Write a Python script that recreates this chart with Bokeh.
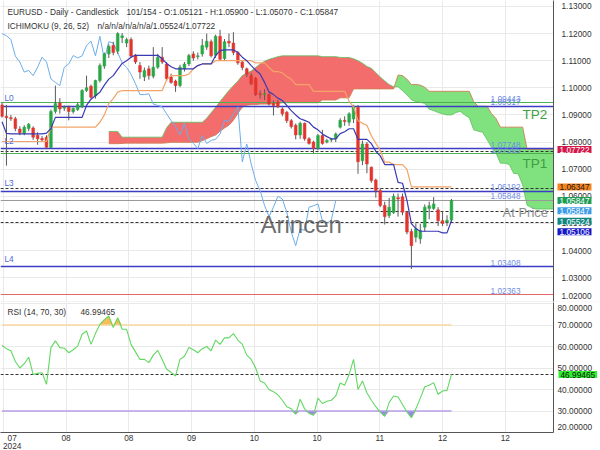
import numpy as np
from bokeh.plotting import figure
from bokeh.layouts import column
from bokeh.models import Range1d, FixedTicker, Label, ColumnDataSource
from bokeh.embed import file_html
from bokeh.resources import INLINE

FONT = "Liberation Sans"

# ---------------- data ----------------
idx = list(range(102))
open_ = [1.0937, 1.0895, 1.0890, 1.0886, 1.0848, 1.0832, 1.0850, 1.0852, 1.0825, 1.0813,
         1.0818, 1.0780, 1.0913, 1.0944, 1.0925, 1.0928, 1.0912, 1.0920, 1.0930, 1.0990,
         1.1006, 1.0970, 1.1027, 1.1080, 1.1125, 1.1156, 1.1135, 1.1185, 1.1165, 1.1178,
         1.1121, 1.1082, 1.1040, 1.1070, 1.1043, 1.1076, 1.1113, 1.1088, 1.1040, 1.1025,
         1.1009, 1.1070, 1.1088, 1.1125, 1.1115, 1.1125, 1.1150, 1.1170, 1.1120, 1.1190,
         1.1108, 1.1172, 1.1165, 1.1130, 1.1095, 1.1070, 1.1045, 1.1035, 1.0978, 1.0975,
         1.0975, 1.0942, 1.0947, 1.0922, 1.0910, 1.0879, 1.0862, 1.0826, 1.0869, 1.0812,
         1.0800, 1.0776, 1.0824, 1.0800, 1.0808, 1.0812, 1.0855, 1.0880, 1.0873, 1.0885,
         1.0928, 1.0731, 1.0793, 1.0707, 1.0660, 1.0621, 1.0566, 1.0529, 1.0540, 1.0595,
         1.0598, 1.0541, 1.0470, 1.0449, 1.0443, 1.0486, 1.0555, 1.0555, 1.0550, 1.0510,
         1.0505, 1.05121]
high = [1.0945, 1.0937, 1.0900, 1.0893, 1.0858, 1.0862, 1.0870, 1.0858, 1.0836, 1.0822,
        1.0825, 1.0920, 1.1008, 1.0962, 1.0935, 1.0935, 1.0928, 1.0945, 1.0995, 1.1045,
        1.1012, 1.1030, 1.1090, 1.1130, 1.1160, 1.1170, 1.1205, 1.1202, 1.1185, 1.1186,
        1.1125, 1.1095, 1.1075, 1.1082, 1.1150, 1.1125, 1.1150, 1.1095, 1.1052, 1.1030,
        1.1085, 1.1095, 1.1125, 1.1135, 1.1130, 1.1180, 1.1200, 1.1178, 1.1196, 1.1214,
        1.1180, 1.1200, 1.1205, 1.1135, 1.1100, 1.1075, 1.1055, 1.1040, 1.0990, 1.0995,
        1.0980, 1.0953, 1.0955, 1.0928, 1.0915, 1.0885, 1.0868, 1.0875, 1.0872, 1.0818,
        1.0805, 1.0830, 1.0845, 1.0812, 1.0815, 1.0835, 1.0888, 1.0895, 1.0910, 1.0937,
        1.0937, 1.0805, 1.0800, 1.0710, 1.0665, 1.0630, 1.0580, 1.0594, 1.0610, 1.0610,
        1.0610, 1.0545, 1.0480, 1.0500, 1.0498, 1.0570, 1.0580, 1.0597, 1.0560, 1.0545,
        1.0530, 1.05900]
low = [1.0890, 1.0713, 1.0878, 1.0840, 1.0825, 1.0825, 1.0840, 1.0808, 1.0790, 1.0800,
       1.0777, 1.0777, 1.0905, 1.0905, 1.0915, 1.0880, 1.0905, 1.0915, 1.0925, 1.0985,
       1.0960, 1.0960, 1.1020, 1.1070, 1.1110, 1.1120, 1.1125, 1.1165, 1.1150, 1.1110,
       1.1088, 1.1033, 1.1025, 1.1030, 1.1035, 1.1070, 1.1088, 1.1025, 1.1015, 1.0985,
       1.1002, 1.1060, 1.1080, 1.1100, 1.1105, 1.1115, 1.1140, 1.1112, 1.1110, 1.1100,
       1.1100, 1.1150, 1.1120, 1.1085, 1.1065, 1.1040, 1.1010, 1.0970, 1.0960, 1.0955,
       1.0935, 1.0898, 1.0925, 1.0895, 1.0870, 1.0850, 1.0810, 1.0812, 1.0805, 1.0790,
       1.0760, 1.0770, 1.0790, 1.0795, 1.0800, 1.0800, 1.0850, 1.0860, 1.0860, 1.0870,
       1.0683, 1.0715, 1.0685, 1.0650, 1.0595, 1.0560, 1.0496, 1.0520, 1.0535, 1.0525,
       1.0530, 1.0460, 1.0332, 1.0430, 1.0425, 1.0470, 1.0515, 1.0550, 1.0490, 1.0490,
       1.0490, 1.05070]
close = [1.0895, 1.0890, 1.0886, 1.0850, 1.0834, 1.0855, 1.0866, 1.0818, 1.0812, 1.0808,
         1.0781, 1.0913, 1.0942, 1.0922, 1.0928, 1.0913, 1.0924, 1.0938, 1.0990, 1.1000,
         1.0965, 1.1027, 1.1082, 1.1125, 1.1153, 1.1130, 1.1200, 1.1192, 1.1178, 1.1117,
         1.1095, 1.1058, 1.1064, 1.1045, 1.1076, 1.1113, 1.1095, 1.1033, 1.1020, 1.1008,
         1.1076, 1.1088, 1.1119, 1.1110, 1.1118, 1.1156, 1.1172, 1.1118, 1.1190, 1.1105,
         1.1170, 1.1165, 1.1130, 1.1092, 1.1075, 1.1050, 1.1015, 1.0975, 1.0975, 1.0978,
         1.0940, 1.0935, 1.0930, 1.0904, 1.0879, 1.0857, 1.0826, 1.0869, 1.0812, 1.0795,
         1.0776, 1.0824, 1.0795, 1.0806, 1.0810, 1.0830, 1.0880, 1.0876, 1.0904, 1.0930,
         1.0727, 1.0793, 1.0719, 1.0658, 1.0621, 1.0566, 1.0525, 1.0560, 1.0600, 1.0590,
         1.0541, 1.0468, 1.0418, 1.0480, 1.0474, 1.0560, 1.0565, 1.0572, 1.0510, 1.0500,
         1.0512, 1.05847]

tenkan = [1.0875, 1.0832, 1.0830, 1.0830, 1.0830, 1.0830, 1.0830, 1.0830, 1.0830, 1.0830,
          1.0833, 1.0850, 1.0891, 1.0891, 1.0891, 1.0891, 1.0891, 1.0891, 1.0891, 1.0935,
          1.0958, 1.0971, 1.0984, 1.1010, 1.1032, 1.1045, 1.1068, 1.1090, 1.1100, 1.1113,
          1.1120, 1.1120, 1.1120, 1.1120, 1.1120, 1.1120, 1.1107, 1.1090, 1.1078, 1.1070,
          1.1070, 1.1070, 1.1070, 1.1070, 1.1082, 1.1088, 1.1088, 1.1088, 1.1119, 1.1137,
          1.1140, 1.1140, 1.1140, 1.1130, 1.1113, 1.1100, 1.1082, 1.1065, 1.1051, 1.1020,
          1.0985, 1.0975, 1.0962, 1.0953, 1.0935, 1.0916, 1.0900, 1.0886, 1.0880, 1.0873,
          1.0855, 1.0845, 1.0830, 1.0820, 1.0812, 1.0812, 1.0831, 1.0838, 1.0849, 1.0849,
          1.0810, 1.0810, 1.0810, 1.0794, 1.0766, 1.0749, 1.0717, 1.0717, 1.0717, 1.0651,
          1.0648, 1.0585, 1.0499, 1.0481, 1.0471, 1.0471, 1.0471, 1.0471, 1.0471, 1.0465,
          1.0465, 1.05106]
kijun = [1.0802, 1.0802, 1.0802, 1.0802, 1.0802, 1.0802, 1.0802, 1.0802, 1.0802, 1.0802,
         1.0802, 1.0855, 1.0855, 1.0855, 1.0855, 1.0855, 1.0855, 1.0855, 1.0855, 1.0855,
         1.0855, 1.0855, 1.0873, 1.0900, 1.0942, 1.0960, 1.0984, 1.0990, 1.0990, 1.0990,
         1.0990, 1.0990, 1.0990, 1.0990, 1.0990, 1.0990, 1.0990, 1.1030, 1.1045, 1.1045,
         1.1045, 1.1045, 1.1051, 1.1070, 1.1082, 1.1088, 1.1088, 1.1088, 1.1100, 1.1100,
         1.1100, 1.1100, 1.1100, 1.1100, 1.1100, 1.1100, 1.1100, 1.1092, 1.1092, 1.1092,
         1.1075, 1.1060, 1.1060, 1.1055, 1.1042, 1.1032, 1.1012, 1.1012, 1.1012, 1.1012,
         1.0987, 1.0987, 1.0987, 1.0987, 1.0987, 1.0987, 1.0987, 1.0987, 1.0950, 1.0930,
         1.0879, 1.0869, 1.0862, 1.0823, 1.0795, 1.0770, 1.0726, 1.0726, 1.0717, 1.0717,
         1.0717, 1.0699, 1.0635, 1.06347, 1.06347, 1.06347, 1.06347, 1.06347, 1.06347, 1.06347,
         1.06347, 1.06347]

cloud_idx = list(range(24, 126))
span_a = [1.0839, 1.0839, 1.0839, 1.0818, 1.0818, 1.0818, 1.0818, 1.0818, 1.0818, 1.0818,
          1.0818, 1.0818, 1.0818, 1.0853, 1.0873, 1.0873, 1.0873, 1.0873, 1.0873, 1.0873,
          1.0873, 1.0873, 1.0888, 1.0908, 1.0928, 1.0950, 1.0970, 1.0990, 1.1008, 1.1025,
          1.1045, 1.1055, 1.1062, 1.1075, 1.1088, 1.1098, 1.1105, 1.1110, 1.1115, 1.1118,
          1.1118, 1.1118, 1.1118, 1.1118, 1.1118, 1.1118, 1.1118, 1.1118, 1.1115, 1.1115,
          1.1115, 1.1115, 1.1112, 1.1112, 1.1112, 1.1107, 1.1100, 1.1091, 1.1079, 1.1072,
          1.1056, 1.1040, 1.1025, 1.1012, 1.1004, 1.1004, 1.0989, 1.0974, 1.0956, 1.0949,
          1.0946, 1.0943, 1.0921, 1.0916, 1.0909, 1.0904, 1.0900, 1.0900, 1.0909, 1.0913,
          1.0900, 1.0890, 1.0845, 1.0840, 1.0836, 1.0809, 1.0781, 1.0760, 1.0722, 1.0722,
          1.0717, 1.0684, 1.0683, 1.0642, 1.0567, 1.0558, 1.0553, 1.0553, 1.0553, 1.0553,
          1.0553, 1.05524]
span_b = [1.0794, 1.0794, 1.0794, 1.0795, 1.0796, 1.0796, 1.0796, 1.0796, 1.0796, 1.0796,
          1.0796, 1.0796, 1.0796, 1.0797, 1.0799, 1.0799, 1.0799, 1.0799, 1.0799, 1.0799,
          1.0799, 1.0805, 1.0812, 1.0820, 1.0826, 1.0840, 1.0852, 1.0862, 1.0880, 1.0905,
          1.0929, 1.0936, 1.0938, 1.0938, 1.0940, 1.0940, 1.0940, 1.0942, 1.0942, 1.0945,
          1.0945, 1.0945, 1.0945, 1.0945, 1.0945, 1.0945, 1.0945, 1.0945, 1.0955, 1.0955,
          1.0955, 1.0955, 1.0963, 1.0963, 1.0963, 1.0996, 1.0996, 1.0996, 1.0996, 1.0996,
          1.0996, 1.0996, 1.0996, 1.0996, 1.0996, 1.1047, 1.1045, 1.1032, 1.1012, 1.1012,
          1.1010, 1.1002, 1.0987, 1.0987, 1.0987, 1.0987, 1.0987, 1.0987, 1.0987, 1.0987,
          1.0987, 1.0987, 1.0949, 1.0932, 1.0932, 1.0932, 1.0905, 1.0887, 1.0855, 1.0855,
          1.0855, 1.0855, 1.0855, 1.0855, 1.0773, 1.0773, 1.0773, 1.0773, 1.0773, 1.0773,
          1.0773, 1.07722]

rsi = [60.5, 59, 58, 53, 50, 52, 55, 47, 47.5, 47.8,
       42.4, 59.5, 62.6, 59.5, 59.2, 57.1, 58.5, 60.2, 65.7, 67.2,
       61, 66, 70.3, 72.5, 74.2, 68.8, 73.4, 68, 68, 61,
       57.5, 54, 54, 52.5, 56, 58.2, 54, 49.4, 48, 46.3,
       54, 55.5, 59.5, 58.5, 57.1, 59, 60, 58, 63, 61,
       64, 64, 66, 63, 61, 56, 54, 50, 44, 43,
       40, 39, 37.5, 35, 32, 31, 28.5, 35.5, 31, 29,
       28, 36, 33.5, 34.5, 35, 37, 43, 42, 47, 54,
       40, 44, 38.5, 35, 32, 29.5, 27.5, 34, 37, 36.5,
       33, 29.5, 26.9, 31, 36, 41.3, 42, 43.2, 37.8, 39.3,
       39.6, 46.99465]
rsi_upper, rsi_lower = 70, 30

tick_pos = [0.3, 14.4, 28.5, 42.6, 56.7, 70.8, 84.9, 99.0, 113.1]
tick_labels = ["07", "08", "08", "09", "10", "10", "11", "12", "12"]
first_year = "2024"
price_ticks = [1.02, 1.03, 1.04, 1.05, 1.06, 1.07, 1.08, 1.09, 1.10, 1.11, 1.12, 1.13]
rsi_ticks = [20, 30, 40, 50, 60, 70, 80]

tp_levels = [1.09443, 1.07565]
tp_names = ["TP2", "TP1"]
l_levels = [1.09317, 1.07748, 1.06192, 1.03408]
l_names = ["L0", "L2", "L3", "L4"]
dashed_levels = [1.07660, 1.06300, 1.05450, 1.05040]
gray_level = 1.05848
red_level = 1.02363

box_values = [1.07722, 1.06347, 1.05847, 1.05847, 1.05524, 1.05106]
box_colors = ["#d41648", "#f5841f", "#1e9c54", "#3b9be6", "#13877f", "#1717c6"]
box_text_colors = ["white", "#1a1a1a", "white", "white", "white", "white"]

header1 = "EURUSD - Daily - Candlestick"
header1b = "101/154 - O:1.05121 - H:1.05900 - L:1.05070 - C:1.05847"
header2 = "ICHIMOKU (9, 26, 52)"
header2b = "n/a/n/a/n/a/n/a/1.05524/1.07722"
rsi_title = "RSI (14, 70, 30)"

# ---------------- layout constants ----------------
W = 600
PLOT_W = 553                     # width of the plotting area (axis line at its right edge)
H_MAIN, H_RSI = 301, 130         # plotting-area heights
H_XAX = 18                       # height under the RSI panel for the date labels
XS, XE = -0.337, 123.93
PXU = PLOT_W / (XE - XS)
XE_FULL = XS + W / PXU
Y0, Y1 = 1.0212, 1.1322
R1 = 80.47
R0 = 20 - H_XAX * (R1 - 20) / H_RSI
XR = Range1d(XS, XE_FULL)
GRID = "#e9e9e9"
AX = "#555555"
TXT = "#333333"
UP, DOWN = "#29a846", "#e3342e"
RED_CLOUD, GREEN_CLOUD = "#f36d6d", "#7fe27f"
BOX_PAD = dict(left=2, right=2, top=1, bottom=0)


def lab(fig, x, y, text, size="8.3px", color=TXT, xu="screen", yu="screen", **kw):
    l = Label(x=x, y=y, x_units=xu, y_units=yu, text=text, text_font=FONT,
              text_font_size=size, text_color=color, **kw)
    fig.add_layout(l)
    return l


# ================= main panel =================
p = figure(width=W, height=H_MAIN + 1, x_range=XR, y_range=Range1d(Y0, Y1),
           output_backend="svg", toolbar_location=None, x_axis_location=None,
           y_axis_location=None, min_border_left=0, min_border_right=0,
           min_border_top=0, min_border_bottom=1)
p.background_fill_color = "white"
p.border_fill_color = "#c9c9c9"
p.outline_line_color = None
p.xgrid.ticker = FixedTicker(ticks=tick_pos)
p.ygrid.ticker = FixedTicker(ticks=price_ticks)
p.xgrid.grid_line_color = GRID
p.ygrid.grid_line_color = GRID

# ----- cloud (split where spans cross) -----
runs = []
cur = {"x": [cloud_idx[0]], "a": [span_a[0]], "b": [span_b[0]], "s": span_a[0] > span_b[0]}
for k in range(1, len(cloud_idx)):
    d0 = span_a[k - 1] - span_b[k - 1]
    d1 = span_a[k] - span_b[k]
    if d0 * d1 < 0:
        t = d0 / (d0 - d1)
        xc = cloud_idx[k - 1] + t * (cloud_idx[k] - cloud_idx[k - 1])
        yc = span_a[k - 1] + t * (span_a[k] - span_a[k - 1])
        cur["x"].append(xc); cur["a"].append(yc); cur["b"].append(yc)
        runs.append(cur)
        cur = {"x": [xc], "a": [yc], "b": [yc], "s": d1 > 0}
    cur["x"].append(cloud_idx[k]); cur["a"].append(span_a[k]); cur["b"].append(span_b[k])
runs.append(cur)
for r_ in runs:
    p.varea(x=r_["x"], y1=r_["a"], y2=r_["b"],
            fill_color=RED_CLOUD if r_["s"] else GREEN_CLOUD, fill_alpha=1.0)
p.line(cloud_idx, span_a, line_color="#5cbf5c", line_width=1, line_alpha=0.8)
p.line(cloud_idx, span_b, line_color="#cf7f55", line_width=1, line_alpha=0.9)

# ----- horizontal levels -----
for v in tp_levels:
    p.hspan(y=[v], line_color="#4caf50", line_width=1.2)
for v in l_levels:
    p.hspan(y=[v], line_color="#3c3cc4", line_width=1.5)
for v in dashed_levels:
    p.hspan(y=[v], line_color="#333333", line_width=1, line_dash="3 2")
p.hspan(y=[gray_level], line_color="#9a9a9a", line_width=1.2)
p.hspan(y=[red_level], line_color="#e06a6a", line_width=1.2)

# ----- chikou -----
chik_x = [i - 26 for i in idx[26:]]
chik_y = close[26:]
p.line(chik_x, chik_y, line_color="#6caeea", line_width=1)

# ----- candles -----
src = ColumnDataSource(dict(
    x=idx, o=open_, h=high, l=low, c=close,
    top=[max(a, b) for a, b in zip(open_, close)],
    bot=[min(a, b) for a, b in zip(open_, close)],
    col=[UP if c >= o else DOWN for o, c in zip(open_, close)],
))
p.segment(x0="x", y0="l", x1="x", y1="h", source=src, line_color="#5a5a5a", line_width=1)
p.vbar(x="x", width=0.62, top="top", bottom="bot", source=src,
       fill_color="col", line_color="col", line_width=0.5)

p.line(idx, kijun, line_color="#f3a468", line_width=1.2)
p.line(idx, tenkan, line_color="#3a3ab4", line_width=1.2)

# ----- right axis area (white cover + axis line) -----
p.quad(left=[XE], right=[XE_FULL + 1], bottom=[Y0 - 1], top=[Y1 + 1],
       fill_color="white", line_color=None)
p.segment(x0=[XE], y0=[Y0 - 1], x1=[XE], y1=[Y1 + 1], line_color=AX, line_width=1)
for v in price_ticks:
    if Y0 <= v <= Y1:
        lab(p, 561, v, f"{v:.5f}", yu="data", text_baseline="middle")
lab(p, 561, Y0, f"{price_ticks[0]:.5f}", yu="data", y_offset=6, text_baseline="middle")

# ----- texts -----
lab(p, 7, H_MAIN - 11, header1, text_baseline="middle")
lab(p, 126, H_MAIN - 11, header1b, text_baseline="middle")
lab(p, 7, H_MAIN - 25, header2, text_baseline="middle")
lab(p, 97, H_MAIN - 25, header2b, text_baseline="middle")

for v, n in zip(l_levels, l_names):
    lab(p, 4, v, n, color="#5068d8", yu="data", text_baseline="bottom", y_offset=3)
for v in tp_levels + l_levels + [gray_level, red_level]:
    lab(p, 490, v, f"{v:.5f}", color="#6f8de6", yu="data", text_baseline="bottom", y_offset=1)

lab(p, 522, H_MAIN - 114, tp_names[0], size="13.5px", color="#3f9e3f", text_baseline="middle")
lab(p, 522, H_MAIN - 163, tp_names[1], size="13.5px", color="#3f9e3f", text_baseline="middle")
lab(p, 502, H_MAIN - 212, "At Price", size="13px", color="#8e8e8e", text_baseline="middle")
lab(p, 260, H_MAIN - 224, "Arincen", size="24px", color="#555555", text_baseline="middle",
    text_alpha=0.85)

# price boxes on the right axis, stacked so that they do not overlap
scale = H_MAIN / (Y1 - Y0)
prev = -1e9
for v, bc, tc in zip(box_values, box_colors, box_text_colors):
    nat = (Y1 - v) * scale
    pos = max(nat, prev + 10.4)
    prev = pos
    lab(p, 557, v, f"{v:.5f}", color=tc, yu="data", y_offset=-(pos - nat),
        text_baseline="middle", background_fill_color=bc, background_fill_alpha=1.0,
        padding=BOX_PAD)

# ================= RSI panel =================
r = figure(width=W, height=H_RSI + H_XAX, x_range=XR, y_range=Range1d(R0, R1),
           output_backend="svg", toolbar_location=None, x_axis_location=None,
           y_axis_location=None, min_border_left=0, min_border_right=0,
           min_border_top=0, min_border_bottom=0)
r.background_fill_color = "white"
r.border_fill_color = "white"
r.outline_line_color = None
r.xgrid.ticker = FixedTicker(ticks=tick_pos)
r.ygrid.ticker = FixedTicker(ticks=rsi_ticks)
r.xgrid.grid_line_color = GRID
r.ygrid.grid_line_color = GRID

rsi_arr = np.array(rsi)
r.varea(x=idx, y1=[rsi_upper] * len(idx), y2=np.maximum(rsi_arr, rsi_upper),
        fill_color="#f7bd5a", fill_alpha=1.0)
r.varea(x=idx, y1=np.minimum(rsi_arr, rsi_lower), y2=[rsi_lower] * len(idx),
        fill_color="#a185e6", fill_alpha=1.0)
r.line([idx[0], idx[-1]], [rsi_upper, rsi_upper], line_color="#f8d7a0", line_width=1.6)
r.line([idx[0], idx[-1]], [rsi_lower, rsi_lower], line_color="#b79ee9", line_width=1.6)
r.hspan(y=[rsi[-1]], line_color="#333333", line_width=1, line_dash="3 2")
r.line(idx, rsi, line_color="#62d862", line_width=1.1)

# cover the axis areas and draw the axis lines
r.quad(left=[XE], right=[XE_FULL + 1], bottom=[R0 - 1], top=[R1 + 1],
       fill_color="white", line_color=None)
r.quad(left=[XS - 1], right=[XE_FULL + 1], bottom=[R0 - 1], top=[rsi_ticks[0]],
       fill_color="white", line_color=None)
r.segment(x0=[XE], y0=[rsi_ticks[0]], x1=[XE], y1=[R1 + 1], line_color=AX, line_width=1)
r.segment(x0=[XS - 1], y0=[rsi_ticks[0]], x1=[XE], y1=[rsi_ticks[0]], line_color=AX, line_width=1)

for v in rsi_ticks:
    off = 6 if v == rsi_ticks[0] else (-4 if v == rsi_ticks[-1] else 0)
    lab(r, 557, v, f"{v:.5f}", yu="data", text_baseline="middle", y_offset=off)
for i, (t, s) in enumerate(zip(tick_pos, tick_labels)):
    xt = t + 2.0 if i == 0 else t
    lab(r, xt, 12.5, s, xu="data", text_align="center", text_baseline="middle")
lab(r, tick_pos[0] + 2.0, 5, first_year, xu="data", text_align="center", text_baseline="middle")

lab(r, 7, H_XAX + H_RSI - 9, rsi_title, text_baseline="middle")
lab(r, 80, H_XAX + H_RSI - 9, f"{rsi[-1]:.5f}", text_baseline="middle")
lab(r, 558, rsi[-1], f"{rsi[-1]:.5f}", color="#111111", yu="data", text_baseline="middle",
    background_fill_color="#2ff02f", background_fill_alpha=1.0, padding=BOX_PAD)

layout = column(p, r, spacing=0)
open("out.html", "w").write(file_html(layout, INLINE))
